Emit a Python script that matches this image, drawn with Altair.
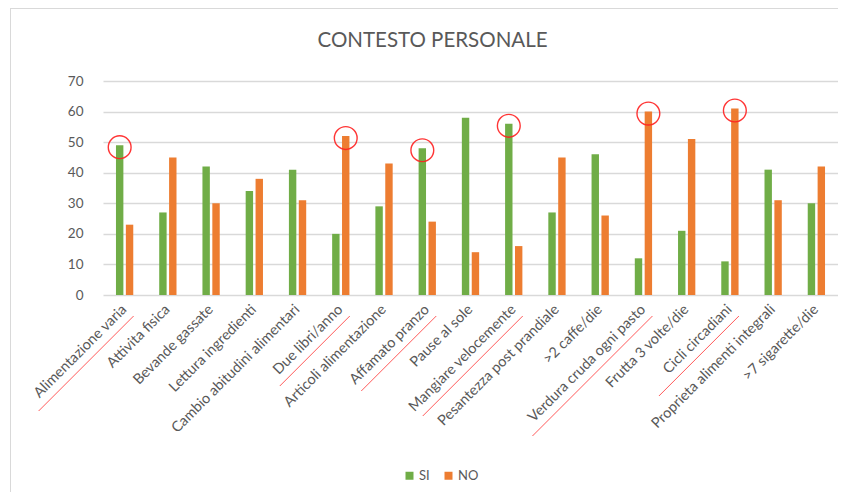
import json
import altair as alt
import pandas as pd

# ---- data ----
categories = [
    "Alimentazione varia", "Attivita fisica", "Bevande gassate", "Lettura ingredienti",
    "Cambio abitudini alimentari", "Due libri/anno", "Articoli alimentazione",
    "Affamato pranzo", "Pause al sole", "Mangiare velocemente",
    "Pesantezza post prandiale", ">2 caffe/die", "Verdura cruda ogni pasto",
    "Frutta 3 volte/die", "Cicli circadiani", "Proprieta alimenti integrali",
    ">7 sigarette/die",
]
si_values = [49, 27, 42, 34, 41, 20, 29, 48, 58, 56, 27, 46, 12, 21, 11, 41, 30]
no_values = [23, 45, 30, 38, 31, 52, 43, 24, 14, 16, 45, 26, 60, 51, 61, 31, 42]
series = ["SI", "NO"]
colors = ["#70AD47", "#ED7D31"]
highlight_cats = ["Alimentazione varia", "Due libri/anno", "Affamato pranzo",
                  "Mangiare velocemente", "Verdura cruda ogni pasto", "Cicli circadiani"]
highlight_series = ["SI", "NO", "SI", "SI", "NO", "NO"]
y_ticks = [0, 10, 20, 30, 40, 50, 60, 70]

W, H = 735, 214
GRAY = "#595959"
FONT = "Lato"

rows = []
for c, s, n in zip(categories, si_values, no_values):
    rows.append({"cat": c, "series": "SI", "value": s})
    rows.append({"cat": c, "series": "NO", "value": n})
df = pd.DataFrame(rows)
hl = pd.DataFrame({"cat": highlight_cats, "series": highlight_series})
hl_df = hl.merge(df, on=["cat", "series"])

x_scale = alt.Scale(paddingInner=0.6, paddingOuter=0.3)
x_axis = alt.Axis(labelAngle=315, labelAlign="right", labelBaseline="middle",
                  labelPadding=12, labelFontSize=14.5, labelColor=GRAY, labelFont=FONT,
                  labelLimit=0, ticks=False, domain=False, grid=False)
y_scale = alt.Scale(domain=[0, 70], nice=False)
y_axis = alt.Axis(values=y_ticks, tickCount=8, labelFontSize=13.5, labelColor=GRAY,
                  labelFont=FONT, labelPadding=20, ticks=False, domain=False,
                  gridColor="#D9D9D9", gridWidth=1.3)
xoff_scale = alt.Scale(paddingInner=0.25, paddingOuter=0)

bars = alt.Chart(df).mark_bar().encode(
    x=alt.X("cat:N", sort=categories, title=None, scale=x_scale, axis=x_axis),
    xOffset=alt.XOffset("series:N", sort=series, scale=xoff_scale),
    y=alt.Y("value:Q", title=None, scale=y_scale, axis=y_axis),
    color=alt.Color(
        "series:N", sort=series,
        scale=alt.Scale(domain=series, range=colors),
        legend=alt.Legend(title=None, orient="none", legendX=300, legendY=388,
                          direction="horizontal", symbolType="square", symbolSize=64,
                          symbolStrokeWidth=0, labelFontSize=13, labelColor=GRAY,
                          labelFont=FONT, columnPadding=12, labelOffset=3),
    ),
)

circles = alt.Chart(hl_df).mark_point(
    shape="circle", filled=False, size=520, color="#FF2020", strokeWidth=1.4,
    opacity=0.9, yOffset=2,
).encode(
    x=alt.X("cat:N", sort=categories, title=None, scale=x_scale, axis=x_axis),
    xOffset=alt.XOffset("series:N", sort=series, scale=xoff_scale),
    y=alt.Y("value:Q", title=None, scale=y_scale, axis=y_axis),
)

inner = alt.layer(bars, circles)

step = W / len(categories)
cats_js = json.dumps(categories)
underline = alt.Chart(hl).transform_calculate(
    n="length(datum.cat)",
    ux=f"(indexof({cats_js}, datum.cat) + 0.5) * {step} + 9",
    uy=f"{H} + 21",
).transform_calculate(
    lx="datum.ux - 5 * datum.n",
    ly="datum.uy + 5 * datum.n",
).mark_rule(color="#FF5A5A", strokeWidth=1).encode(
    x=alt.X("ux:Q", scale=None, axis=None),
    x2="lx:Q",
    y=alt.Y("uy:Q", scale=None, axis=None),
    y2="ly:Q",
)

frame = alt.Data(values=[{}])
border_left = alt.Chart(frame).mark_rule(color="#D9D9D9", strokeWidth=1).encode(
    x=alt.value(-92.5), y=alt.value(-73), y2=alt.value(H + 200))
border_top = alt.Chart(frame).mark_rule(color="#D9D9D9", strokeWidth=1).encode(
    x=alt.value(-93), x2=alt.value(W), y=alt.value(-72.5))

chart = alt.layer(inner, underline, border_left, border_top).resolve_scale(
    x="independent", y="independent"
).properties(
    width=W, height=H,
    title=alt.TitleParams("CONTESTO PERSONALE", fontSize=20.5, font=FONT, color=GRAY,
                          fontWeight="normal", anchor="middle", dx=-38, offset=-60,
                          baseline="alphabetic"),
    autosize=alt.AutoSizeParams(type="none"),
    padding={"left": 95, "top": 73, "right": 0, "bottom": 197},
).configure_view(stroke=None)

chart.save("out.html", embed_options={"renderer": "svg", "actions": False})
